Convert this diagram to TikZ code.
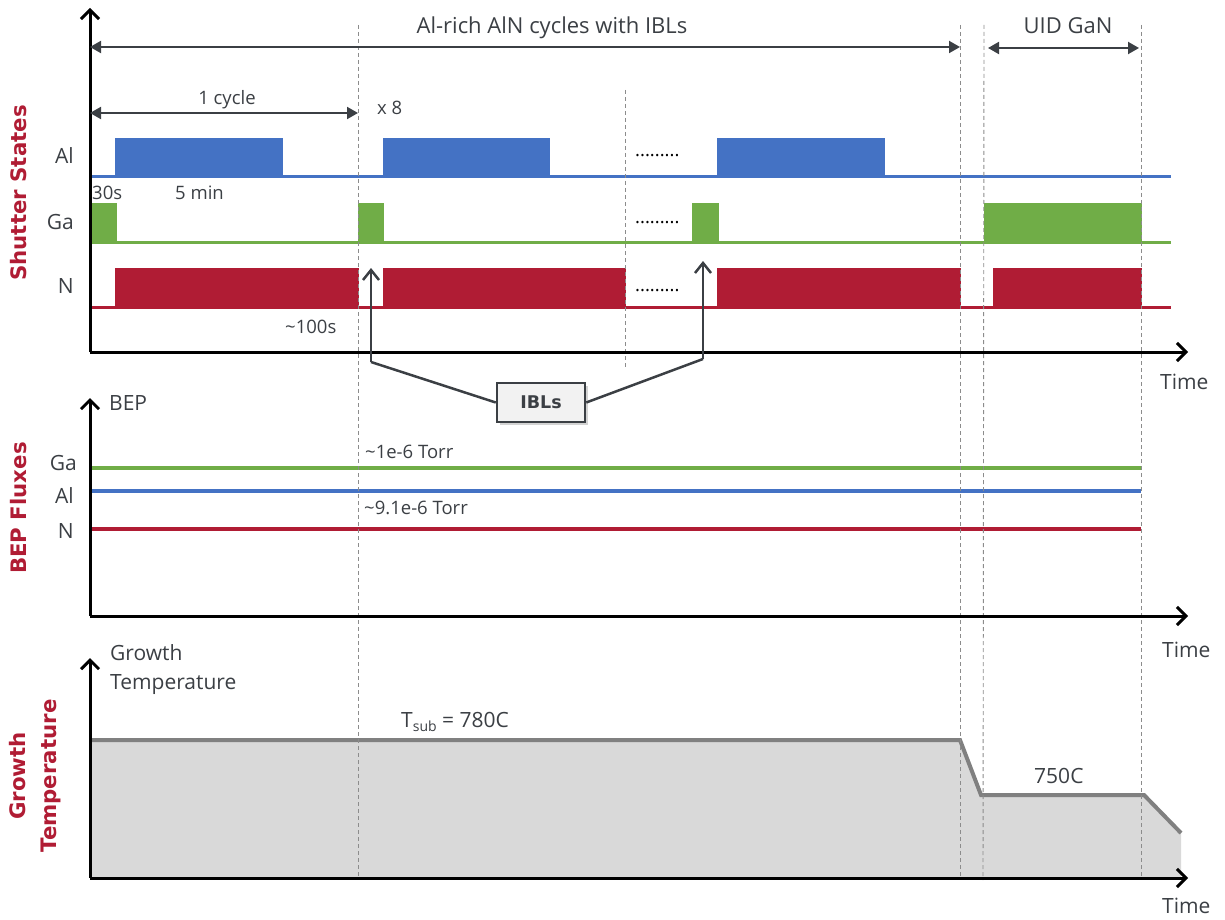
\documentclass[tikz,border=0pt]{standalone}
\usepackage{fontspec}
\setmainfont{Open Sans}
\newfontfamily\titlefont{DejaVu Sans}
\usetikzlibrary{arrows.meta,shadows}
\definecolor{alblue}{HTML}{4472C4}
\definecolor{gagreen}{HTML}{70AD47}
\definecolor{nred}{HTML}{B01C34}
\definecolor{txt}{HTML}{3B3F44}
\definecolor{ttl}{HTML}{B01C34}
\definecolor{tline}{HTML}{808080}
\definecolor{tfill}{HTML}{D9D9D9}
\definecolor{boxfill}{HTML}{F2F2F2}
\tikzset{
 lbl/.style={text=txt, font=\fontsize{21}{25}\selectfont, inner sep=0pt},
 big/.style={text=txt, font=\fontsize{22}{26}\selectfont, inner sep=0pt},
 ann/.style={text=txt, font=\fontsize{18.5}{22}\selectfont, inner sep=0pt},
 ttlstyle/.style={text=ttl, font=\titlefont\bfseries\fontsize{21.3}{31}\selectfont, rotate=90, inner sep=0pt, align=center},
 axisline/.style={line width=3pt, draw=black, -{Straight Barb[length=9pt,width=18pt]}},
 dimarr/.style={line width=2pt, draw=txt, {Triangle[length=11pt,width=12pt]}-{Triangle[length=11pt,width=12pt]}},
 guide/.style={draw=black!45, line width=0.9pt, dash pattern=on 4pt off 3pt},
 sig/.style={line width=3pt},
 callout/.style={line width=2.5pt, draw=txt},
 calloutarr/.style={line width=2.5pt, draw=txt, -{Straight Barb[length=10pt,width=16pt]}},
}
\begin{document}
\begin{tikzpicture}[x=1pt,y=-1pt]
\useasboundingbox (0,0) rectangle (1225,920);

% ---------- temperature fill ----------
\fill[tfill] (90,740) -- (960,740) -- (981,795) -- (1144,795) -- (1181,833) -- (1181,878) -- (90,878) -- cycle;
\coordinate (t0) at (90,740);
\coordinate (t1) at (960,740);
\coordinate (t2) at (981,795);
\coordinate (t3) at (1144,795);
\coordinate (t4) at (1181,833);
\draw[tline, line width=4pt] (t0) -- (t1) -- (t2) -- (t3) -- (t4);

% ---------- shutter signals ----------
% Al
\draw[alblue, sig] (90,177) -- (1171,177);
\fill[alblue] (115,138) rectangle (283,178.5);
\fill[alblue] (383,138) rectangle (550,178.5);
\fill[alblue] (717,138) rectangle (885,178.5);
% Ga
\draw[gagreen, sig] (90,242) -- (1171,242);
\fill[gagreen] (90,203) rectangle (117,243.5);
\fill[gagreen] (358,203) rectangle (384,243.5);
\fill[gagreen] (692,203) rectangle (719,243.5);
\fill[gagreen] (984,203) rectangle (1142,243.5);
% N
\draw[nred, sig] (90,307) -- (1171,307);
\fill[nred] (115,268) rectangle (359,308.5);
\fill[nred] (383,268) rectangle (626,308.5);
\fill[nred] (717,268) rectangle (961,308.5);
\fill[nred] (993,268) rectangle (1142,308.5);

% ---------- BEP lines ----------
\draw[gagreen, line width=3.5pt] (90,468) -- (1141,468);
\draw[alblue, line width=3.5pt] (90,491) -- (1141,491);
\draw[nred, line width=3.5pt] (90,529) -- (1141,529);

% ---------- dashed guides ----------
\draw[guide] (358,25) -- (358,880);
\draw[guide] (625,90) -- (625,368);
\draw[guide] (960.5,25) -- (960.5,880);
\draw[guide] (984,25) -- (983,880);
\draw[guide] (1141.5,25) -- (1141.5,880);

% ---------- axes ----------
\coordinate (o1) at (90,352);
\coordinate (y1) at (90,8);
\coordinate (x1) at (1188,352);
\draw[axisline] (o1) -- (y1);
\draw[axisline] (o1) -- (x1);
\coordinate (o2) at (90,616);
\coordinate (y2) at (90,398);
\coordinate (x2) at (1188,616);
\draw[axisline] (o2) -- (y2);
\draw[axisline] (o2) -- (x2);
\coordinate (o3) at (90,878);
\coordinate (y3) at (90,658);
\coordinate (x3) at (1188,878);
\draw[axisline] (o3) -- (y3);
\draw[axisline] (o3) -- (x3);

% ---------- dimension arrows ----------
\coordinate (d1a) at (90,47);
\coordinate (d1b) at (960,47);
\draw[dimarr] (d1a) -- (d1b);
\coordinate (d2a) at (988,48);
\coordinate (d2b) at (1139,48);
\draw[dimarr] (d2a) -- (d2b);
\coordinate (d3a) at (90,113);
\coordinate (d3b) at (358,113);
\draw[dimarr] (d3a) -- (d3b);

\node[big, anchor=base] (alrich) at (552,34) {Al-rich AlN cycles with IBLs};
\node[big, anchor=base] (uid) at (1068,34) {UID GaN};
\node[ann, anchor=base] (cyc) at (227,105) {1 cycle};
\node[ann, anchor=base west] (x8) at (377,115) {x 8};
\node[ann, anchor=base west] (t30) at (92,200) {30s};
\node[ann, anchor=base west] (t5) at (175,199) {5 min};
\node[ann, anchor=base west] (t100) at (285,333) {\textasciitilde100s};

% dots
\node[ann, anchor=base west, text=black] (dotA) at (635,157) {.........};
\node[ann, anchor=base west, text=black] (dotG) at (635,223) {.........};
\node[ann, anchor=base west, text=black] (dotN) at (635,291) {.........};

% signal labels
\node[lbl, anchor=base east] (lAl) at (74,164) {Al};
\node[lbl, anchor=base east] (lGa) at (74,229) {Ga};
\node[lbl, anchor=base east] (lN) at (74,293) {N};

\node[lbl, anchor=base west] (time1) at (1160,389) {Time};
\node[lbl, anchor=base west] (time2) at (1162,657) {Time};
\node[lbl, anchor=base west] (time3) at (1162,913) {Time};

% BEP labels
\node[lbl, anchor=base west] (bep) at (109,410) {BEP};
\node[lbl, anchor=base east] (bGa) at (77,470) {Ga};
\node[lbl, anchor=base east] (bAl) at (74,503) {Al};
\node[lbl, anchor=base east] (bN) at (74,538) {N};
\node[ann, anchor=base west] (f1) at (365,458) {\textasciitilde1e-6 Torr};
\node[ann, anchor=base west] (f2) at (364,514) {\textasciitilde9.1e-6 Torr};

% temperature labels
\node[lbl, anchor=base west] (gt1) at (110,660) {Growth};
\node[lbl, anchor=base west] (gt2) at (110,689) {Temperature};
\node[lbl, anchor=base west] (tsub) at (401,727) {T{\fontsize{14}{14}\selectfont\raisebox{-4.5pt}{sub}} = 780C};
\node[lbl, anchor=base west] (t750) at (1034,783) {750C};

% titles
\node[ttlstyle] (ttlS) at (19,193) {Shutter States};
\node[ttlstyle] (ttlB) at (19,508) {BEP Fluxes};
\node[ttlstyle] (ttlG) at (35,776) {Growth\\Temperature};

% ---------- IBLs callout ----------
\node[draw=txt, line width=2.5pt, fill=boxfill, minimum width=88pt, minimum height=39pt, inner sep=0pt,
      font=\titlefont\bfseries\fontsize{17.5}{21}\selectfont, text=txt,
      drop shadow={opacity=0.35, shadow xshift=3pt, shadow yshift=-3pt}] (ibl) at (541,402.5) {IBLs};
\coordinate (cl) at (371,362);
\coordinate (clt) at (371,268);
\coordinate (cr) at (703,359);
\coordinate (crt) at (703,261);
\draw[callout] (ibl.west) -- (cl);
\draw[calloutarr] (cl) -- (clt);
\draw[callout] (ibl.east) -- (cr);
\draw[calloutarr] (cr) -- (crt);
\end{tikzpicture}
\end{document}
